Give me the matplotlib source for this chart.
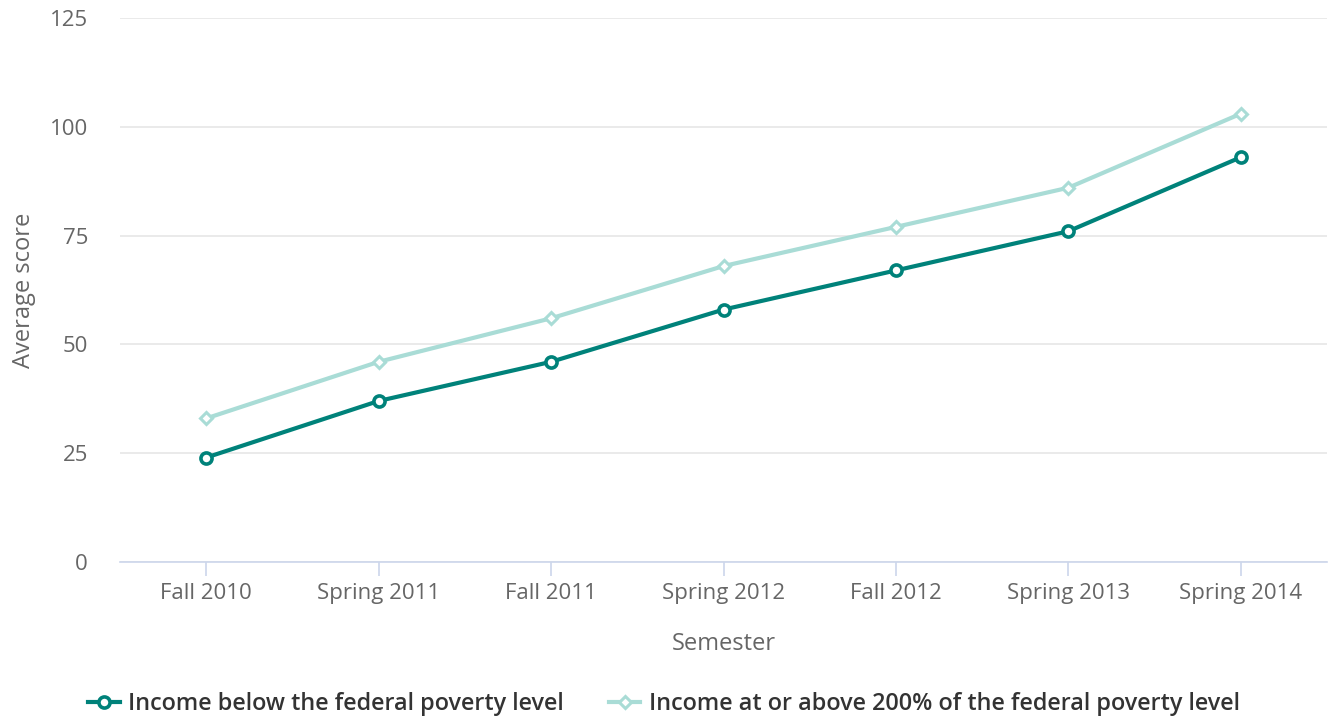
import matplotlib.pyplot as plt
import numpy as np

plt.rcParams['font.family'] = ['Open Sans', 'DejaVu Sans']

semesters = ["Fall 2010", "Spring 2011", "Fall 2011", "Spring 2012",
             "Fall 2012", "Spring 2013", "Spring 2014"]
below_poverty = [24, 37, 46, 58, 67, 76, 93]
above_200 = [33, 46, 56, 68, 77, 86, 103]
y_ticks = [0, 25, 50, 75, 100, 125]

dark = "#00827a"
light = "#a9dcd6"

fig = plt.figure(figsize=(13.31, 7.19), dpi=100)
ax = fig.add_axes([120 / 1331, 1 - 562 / 719, 1207 / 1331, 544 / 719])

x = np.arange(len(semesters))
ax.plot(x, above_200, color=light, lw=3, marker="D", ms=6.5,
        mfc="white", mec=light, mew=2.2, zorder=3,
        label="Income at or above 200% of the federal poverty level")
ax.plot(x, below_poverty, color=dark, lw=3, marker="o", ms=8,
        mfc="white", mec=dark, mew=2.6, zorder=4,
        label="Income below the federal poverty level")

ax.set_xlim(-0.5, len(semesters) - 0.5)
ax.set_ylim(0, 125)
ax.set_yticks(y_ticks)
ax.set_xticks(x)
ax.set_xticklabels(semesters)
ax.grid(axis="y", color="#e6e6e6", lw=1.2)
ax.set_axisbelow(True)
for s in ["top", "right", "left"]:
    ax.spines[s].set_visible(False)
ax.spines["bottom"].set_color("#ccd6eb")
ax.spines["bottom"].set_linewidth(1.2)
ax.tick_params(axis="x", colors="#666666", labelsize=16, length=10,
               width=1.2, color="#ccd6eb", pad=5)
ax.tick_params(axis="y", colors="#666666", labelsize=16, length=0, pad=23)

ax.set_xlabel("Semester", fontsize=17, color="#666666", labelpad=20)
ax.set_ylabel("Average score", fontsize=17, color="#666666", labelpad=10)

handles, labels = ax.get_legend_handles_labels()
leg = fig.legend(handles[::-1], labels[::-1], loc="center left",
                 bbox_to_anchor=(67 / 1331, 1 - 704 / 719), ncol=2,
                 frameon=False, handlelength=1.35, columnspacing=1.95,
                 handletextpad=0.35, prop={"size": 16.8, "weight": "semibold"})
for t in leg.get_texts():
    t.set_color("#333333")

fig.savefig("out.png", dpi=100)
